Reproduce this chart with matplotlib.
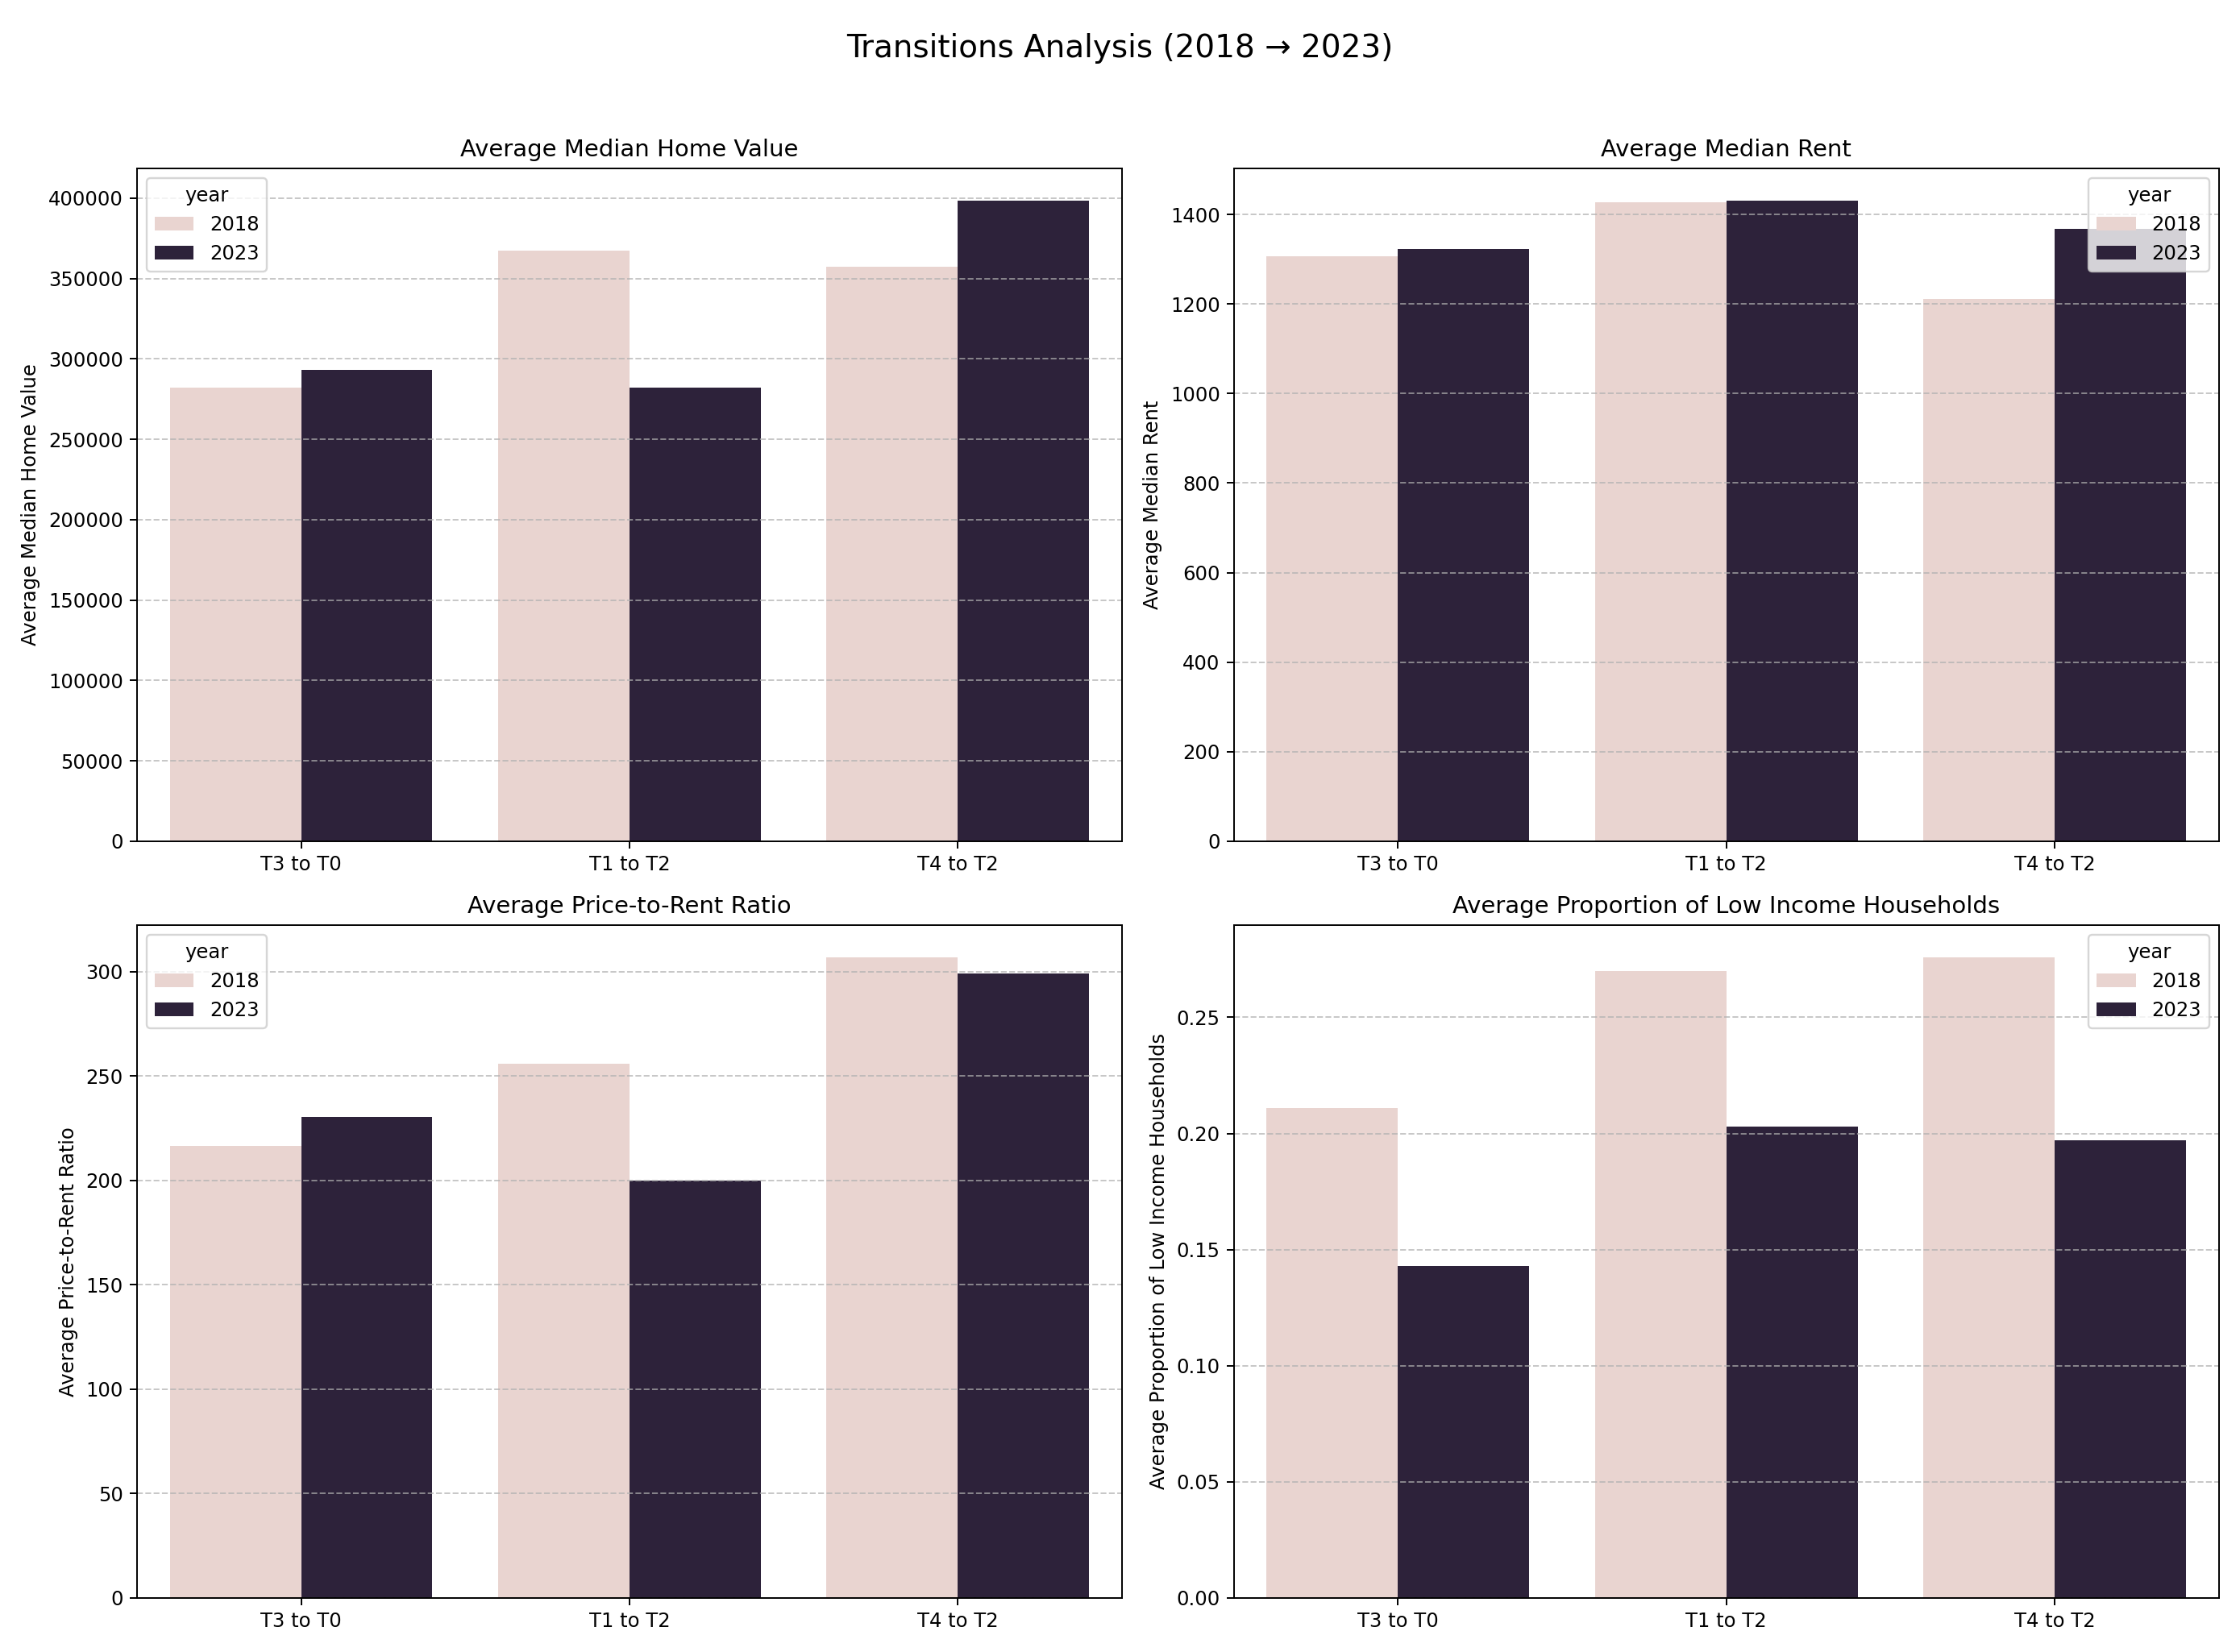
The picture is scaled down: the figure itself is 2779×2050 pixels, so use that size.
import numpy as np
import pandas as pd
import matplotlib
matplotlib.use("Agg")
import matplotlib.pyplot as plt
import seaborn as sns

transitions = ["T3 to T0", "T1 to T2", "T4 to T2"]
years = [2018, 2023]

home_2018 = [282000, 367500, 357500]
home_2023 = [293000, 282000, 398500]
rent_2018 = [1307, 1428, 1212]
rent_2023 = [1323, 1431, 1367]
ratio_2018 = [216.5, 256, 307]
ratio_2023 = [230.5, 200, 299]
low_2018 = [0.211, 0.270, 0.276]
low_2023 = [0.143, 0.203, 0.197]

panels = [
    ("Average Median Home Value", home_2018, home_2023),
    ("Average Median Rent", rent_2018, rent_2023),
    ("Average Price-to-Rent Ratio", ratio_2018, ratio_2023),
    ("Average Proportion of Low Income Households", low_2018, low_2023),
]

fig, axes = plt.subplots(2, 2, figsize=(2779 / 175, 2050 / 175), dpi=175)
for ax, (name, v18, v23) in zip(axes.flat, panels):
    df = pd.DataFrame({
        "transition": transitions * 2,
        "year": [2018] * 3 + [2023] * 3,
        "value": v18 + v23,
    })
    sns.barplot(data=df, x="transition", y="value", hue="year", ax=ax)
    ax.set_title(name, fontsize=12)
    ax.set_xlabel("")
    ax.set_ylabel(name)
    ax.grid(axis="y", linestyle="--", alpha=0.7)

fig.suptitle("Transitions Analysis (2018 \u2192 2023)", fontsize=16)
fig.tight_layout(rect=[0, 0, 1, 0.96])
fig.savefig("out.png", dpi=175)
